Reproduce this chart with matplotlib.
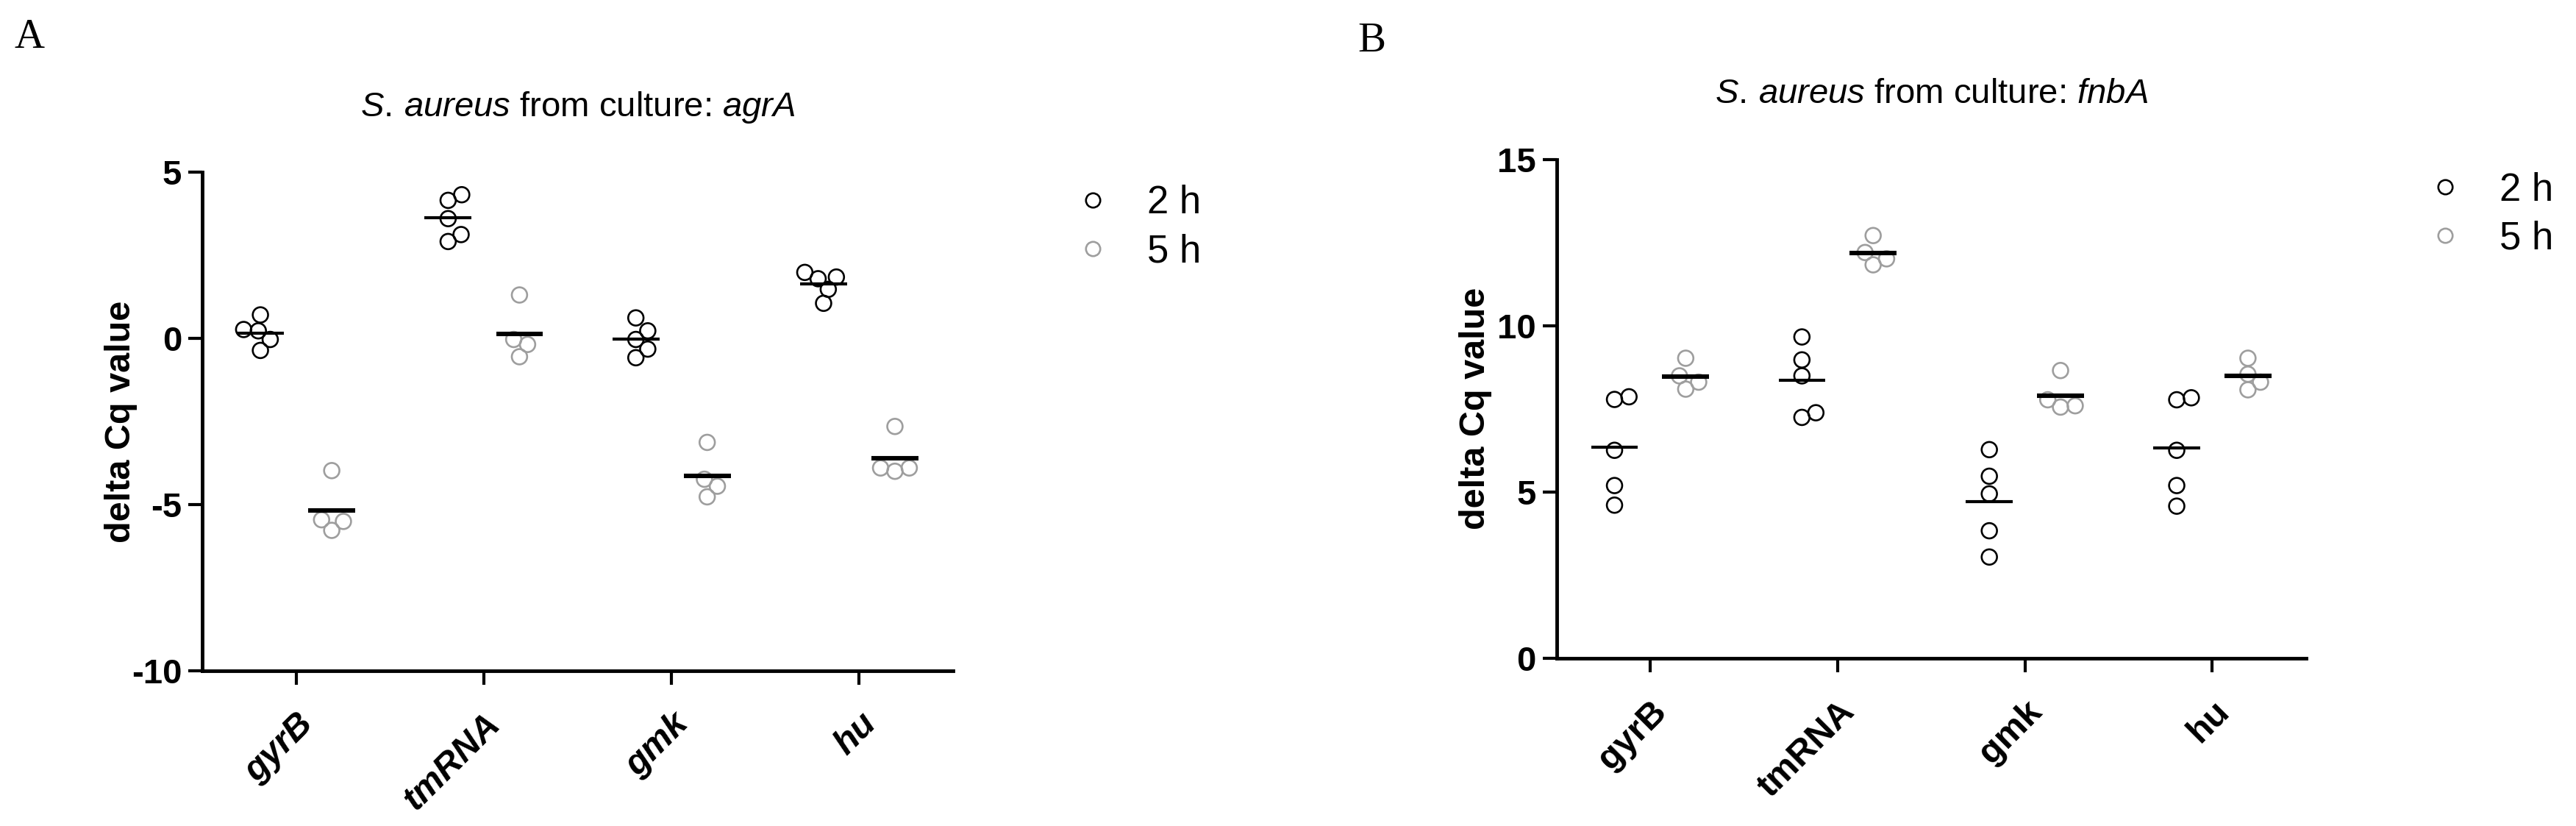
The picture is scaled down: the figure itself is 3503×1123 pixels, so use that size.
import numpy as np
import matplotlib
matplotlib.use("Agg")
import matplotlib.pyplot as plt
from matplotlib.lines import Line2D

plt.rcParams['font.family'] = ['Liberation Sans', 'DejaVu Sans']
plt.rcParams['mathtext.fontset'] = 'custom'
plt.rcParams['mathtext.rm'] = 'Liberation Sans'
plt.rcParams['mathtext.it'] = 'Liberation Sans:italic'
plt.rcParams['axes.unicode_minus'] = False

# reference genes on the x axis
genes = ['gyrB', 'tmRNA', 'gmk', 'hu']
groups = ['2 h', '5 h']

# panel A: agrA, delta Cq per replicate
agra_2h = [
    [0.71, 0.27, 0.23, -0.03, -0.36],
    [4.33, 4.16, 3.61, 3.13, 2.92],
    [0.62, 0.23, -0.03, -0.32, -0.58],
    [1.99, 1.85, 1.80, 1.48, 1.06],
]
agra_5h = [
    [-3.98, -5.46, -5.51, -5.78],
    [1.31, -0.03, -0.18, -0.55],
    [-3.13, -4.24, -4.45, -4.77],
    [-2.65, -3.90, -4.00, -3.90],
]

# panel B: fnbA
fnba_2h = [
    [7.78, 7.86, 6.25, 5.19, 4.60],
    [9.66, 8.97, 8.49, 7.24, 7.38],
    [6.27, 5.47, 4.94, 3.83, 3.04],
    [7.77, 7.83, 6.25, 5.19, 4.57],
]
fnba_5h = [
    [9.02, 8.49, 8.30, 8.09],
    [12.71, 12.20, 12.01, 11.83],
    [8.65, 7.77, 7.59, 7.55],
    [9.02, 8.54, 8.30, 8.07],
]

col_2h = '#000000'
col_5h = '#9E9E9E'

W, H = 3503, 1123
fig = plt.figure(figsize=(W / 100, H / 100), dpi=100)


def swarm(values, xpx, ypx, diam=20.0):
    # simple beeswarm: spread overlapping circles sideways
    vals = np.asarray(values, dtype=float)
    order = np.argsort(vals)
    placed = []
    offs = np.zeros(len(vals))
    for i in order:
        y = vals[i] * ypx
        cands = [0.0]
        for px, py in placed:
            dy = y - py
            if abs(dy) < diam:
                dx = np.sqrt(diam ** 2 - dy ** 2)
                cands += [px + dx, px - dx]
        cands.sort(key=abs)
        best = cands[-1]
        for c in cands:
            if all((c - px) ** 2 + (y - py) ** 2 >= diam ** 2 - 1e-6 for px, py in placed):
                best = c
                break
        placed.append((best, y))
        offs[i] = best / xpx
    return offs


def panel(rect, data_2h, data_5h, ylim, yticks, title, xstyle):
    ax = fig.add_axes(rect)
    xpx = rect[2] * W / 4.0
    ypx = rect[3] * H / (ylim[1] - ylim[0])
    shift = 0.19
    for gi, (series, col, lw) in enumerate([(data_2h, col_2h, 3.0), (data_5h, col_5h, 4.4)]):
        for k, vals in enumerate(series):
            xc = k + (-shift if gi == 0 else shift)
            xs = xc + swarm(vals, xpx, ypx)
            ax.scatter(xs, vals, s=15 ** 2, facecolors='none', edgecolors=col,
                       linewidths=1.9, zorder=3, clip_on=False)
            ax.hlines(np.mean(vals), xc - 0.125, xc + 0.125, color='black', lw=lw, zorder=4)

    ax.set_xlim(-0.5, 3.5)
    ax.set_ylim(*ylim)
    ax.set_yticks(yticks)
    ax.set_xticks(range(len(genes)))
    ax.set_xticklabels(genes, rotation=45, ha='right', va='top', rotation_mode='anchor',
                       fontsize=35, fontweight='bold', fontstyle=xstyle)
    for lab in ax.get_yticklabels():
        lab.set_fontsize(34)
        lab.set_fontweight('bold')
    for side in ['top', 'right']:
        ax.spines[side].set_visible(False)
    for side in ['left', 'bottom']:
        ax.spines[side].set_linewidth(3.5)
    ax.tick_params(axis='both', width=3.0, length=14, pad=6)
    ax.tick_params(axis='x', pad=22)

    ax.set_ylabel('delta Cq value', fontsize=35, fontweight='bold')
    ax.yaxis.set_label_coords(-0.108, 0.5)
    ax.yaxis.label.set_verticalalignment('center')
    ax.set_title(title, fontsize=34, pad=55)

    handles = [Line2D([], [], ls='none', marker='o', markersize=14, markerfacecolor='none',
                      markeredgecolor=c, markeredgewidth=1.9) for c in [col_2h, col_5h]]
    ax.legend(handles, groups, loc='upper left', bbox_to_anchor=(1.16, 0.975),
              frameon=False, fontsize=38, handlelength=1.0, handletextpad=0.9,
              labelspacing=0.3, borderpad=0, borderaxespad=0)
    return ax


panel([0.0785, 0.1883, 0.2915, 0.6029], agra_2h, agra_5h, (-10, 5), [-10, -5, 0, 5],
      r'$\it{S.\,aureus}$ from culture: $\it{agrA}$', 'italic')
panel([0.6042, 0.2033, 0.2910, 0.6037], fnba_2h, fnba_5h, (0, 15), [0, 5, 10, 15],
      r'$\it{S.\,aureus}$ from culture: $\it{fnbA}$', 'normal')

fig.text(19 / W, 1 - 65 / H, 'A', fontsize=41, family='Liberation Serif', va='baseline', ha='left')
fig.text(1846 / W, 1 - 70 / H, 'B', fontsize=41, family='Liberation Serif', va='baseline', ha='left')

fig.savefig('out.png', dpi=100, facecolor='white')
